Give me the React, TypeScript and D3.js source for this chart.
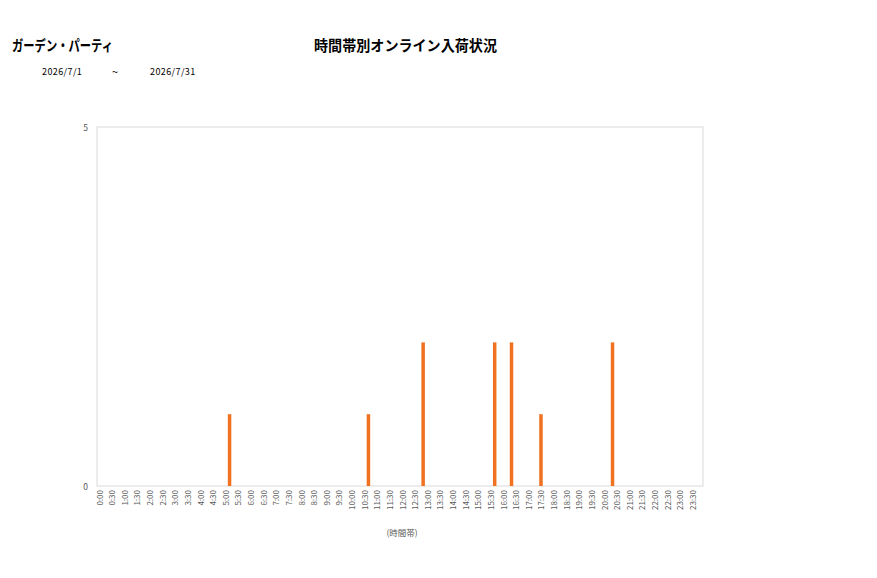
import { scaleBand, scaleLinear } from 'd3';

// Chart texts.
const shopName = 'ガーデン・パーティ';
const chartTitle = '時間帯別オンライン入荷状況';
const dateFrom = '2026/7/1';
const dateTo = '2026/7/31';
const xAxisTitle = '(時間帯)';

// 10-minute slots over the day; a label is shown on every third one.
const hours = Array.from({ length: 24 }, (_, h) => h);
const minutes = ['00', '10', '20', '30', '40', '50'];
const timeSlots = hours.flatMap((h) => minutes.map((m) => `${h}:${m}`));
const labelledSlots = timeSlots.filter((t) => t.endsWith(':00') || t.endsWith(':30'));

// Arrivals.
const arrivalSlots = ['5:10', '10:40', '12:50', '15:40', '16:20', '17:30', '20:20'];
const arrivalCounts = [1, 1, 2, 2, 2, 1, 2];

const yTicks = [0, 5];

const width = 877;
const height = 578;
const plot = { left: 97, right: 703, top: 127, bottom: 486 };
const font = '"Noto Sans CJK JP", "Noto Sans", sans-serif';

const App = () => {
  // Get the axis scales.
  const xScale = scaleBand<string>()
    .domain(timeSlots)
    .range([plot.left, plot.right])
    .paddingInner(0.17)
    .paddingOuter(0.085);
  const yScale = scaleLinear().domain([0, 5]).range([plot.bottom, plot.top]);

  return (
    <svg
      width={width}
      height={height}
      style={{ position: 'absolute', left: 0, top: 0, display: 'block', background: '#fff' }}
      fontFamily={font}
    >
      <text
        x={12}
        y={44}
        dominantBaseline="central"
        fontSize={14.5}
        fontWeight="bold"
        fill="#000"
        textLength={101}
        lengthAdjust="spacingAndGlyphs"
      >
        {shopName}
      </text>
      <text
        x={314}
        y={44}
        dominantBaseline="central"
        fontSize={14.5}
        fontWeight="bold"
        fill="#000"
        textLength={183}
        lengthAdjust="spacingAndGlyphs"
      >
        {chartTitle}
      </text>
      <text x={42} y={71} dominantBaseline="central" fontSize={9} letterSpacing={0.4} fill="#000">
        {dateFrom}
      </text>
      <text x={112} y={71} dominantBaseline="central" fontSize={11} fill="#000">
        ~
      </text>
      <text x={150} y={71} dominantBaseline="central" fontSize={9} letterSpacing={0.4} fill="#000">
        {dateTo}
      </text>

      {/* Plot frame */}
      <rect
        x={plot.left}
        y={plot.top}
        width={plot.right - plot.left}
        height={plot.bottom - plot.top}
        fill="none"
        stroke="#d9d9d9"
        strokeWidth={1}
      />

      {/* Y ticks */}
      {yTicks.map((t) => (
        <text key={t} x={88} y={yScale(t)} textAnchor="end" dominantBaseline="central" fontSize={8.5} fill="#595959">
          {t}
        </text>
      ))}

      {/* Bars */}
      {arrivalSlots.map((slot, i) => (
        <rect
          key={slot}
          x={xScale(slot)}
          y={yScale(arrivalCounts[i])}
          width={xScale.bandwidth()}
          height={plot.bottom - yScale(arrivalCounts[i])}
          fill="#f07120"
        />
      ))}

      {/* X labels */}
      {labelledSlots.map((slot) => {
        const cx = (xScale(slot) ?? 0) + xScale.bandwidth() / 2;
        return (
          <text
            key={slot}
            transform={`translate(${cx},490) rotate(-90)`}
            textAnchor="end"
            dominantBaseline="central"
            fontSize={8}
            fill="#595959"
          >
            {slot}
          </text>
        );
      })}

      <text x={402} y={532} textAnchor="middle" dominantBaseline="central" fontSize={8.5} fill="#595959">
        {xAxisTitle}
      </text>
    </svg>
  );
};

export default App;
